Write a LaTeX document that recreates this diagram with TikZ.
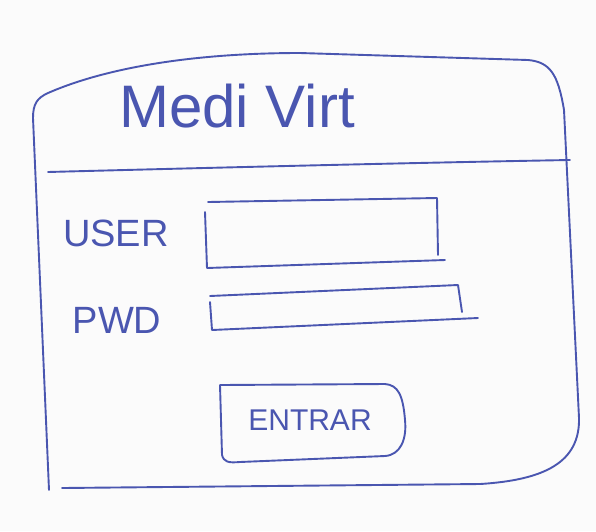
\documentclass[tikz,border=0pt]{standalone}
\usepackage{fontspec}
\setmainfont{Liberation Sans}
\definecolor{ink}{RGB}{74,86,176}
\definecolor{paper}{RGB}{251,251,251}
\begin{document}
\begin{tikzpicture}[x=1pt,y=-1pt,
  pen/.style={draw=ink, line width=1.9pt, line cap=round, line join=round},
  hand/.style={text=ink, inner sep=0pt, anchor=center}]
\fill[paper] (0,0) rectangle (596,531);
\useasboundingbox (0,0) rectangle (596,531);

% window frame
\draw[pen] (49,490) -- (33,118)
  .. controls (33,104) and (37,98) .. (48,93)
  .. controls (110,66) and (200,53) .. (300,53)
  -- (528,60)
  .. controls (550,62) and (558,74) .. (564,110)
  -- (579,418)
  .. controls (580,462) and (545,480) .. (480,484)
  -- (62,488);
% header separator
\draw[pen] (48,172) .. controls (200,168) and (400,163) .. (570,160);

% title
\node[hand, font=\fontsize{60}{60}\selectfont] (title) at (237,106) {Medi Virt};

% labels
\node[hand, font=\fontsize{38}{38}\selectfont] (user) at (116,233) {USER};
\node[hand, font=\fontsize{38}{38}\selectfont] (pwd) at (117,320) {PWD};

% user field
\draw[pen] (208,202) -- (437,198) -- (438,255);
\draw[pen] (205,212) -- (207,268) -- (445,260);
% password field
\draw[pen] (210,296) -- (458,285) -- (462,312);
\draw[pen] (210,302) -- (212,330) -- (478,318);

% button
\draw[pen] (220,385) -- (222,455)
  .. controls (224,462) and (228,463) .. (240,462)
  -- (385,456)
  .. controls (400,455) and (407,440) .. (405,420)
  .. controls (403,395) and (398,385) .. (385,384)
  -- (220,385);
\node[hand, font=\fontsize{30}{30}\selectfont] (entrar) at (310,420) {ENTRAR};
\end{tikzpicture}
\end{document}
